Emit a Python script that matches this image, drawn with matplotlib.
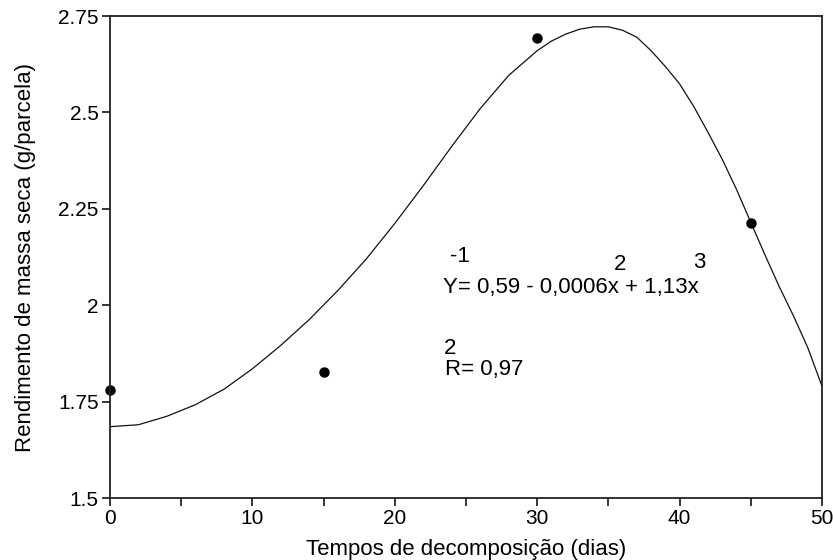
import matplotlib.pyplot as plt

plt.rcParams['font.family'] = ['Liberation Sans', 'DejaVu Sans']

# observed points
dias = [0, 15, 30, 45]
massa = [1.780, 1.827, 2.693, 2.213]

# fitted curve
curva_x = [0, 2, 4, 6, 8, 10, 12, 14, 16, 18, 20, 22, 24, 26, 28, 30, 31, 32, 33,
           34, 35, 36, 37, 38, 39, 40, 41, 42, 43, 44, 45, 46, 47, 48, 49, 50]
curva_y = [1.685, 1.690, 1.712, 1.742, 1.782, 1.835, 1.896, 1.963, 2.038, 2.120,
           2.212, 2.310, 2.412, 2.510, 2.596, 2.660, 2.685, 2.703, 2.716, 2.722,
           2.722, 2.713, 2.695, 2.660, 2.619, 2.574, 2.515, 2.448, 2.378, 2.300,
           2.215, 2.130, 2.048, 1.972, 1.890, 1.790]

x_ticks = [0, 10, 20, 30, 40, 50]
x_minor = [5, 15, 25, 35, 45]
y_ticks = [1.5, 1.75, 2, 2.25, 2.5, 2.75]
y_labels = ["1.5", "1.75", "2", "2.25", "2.5", "2.75"]

fig = plt.figure(figsize=(8.33, 5.6), dpi=100)
ax = fig.add_axes([0.132, 0.1107, 0.8548, 0.8607])

ax.plot(curva_x, curva_y, color="#111111", lw=0.9)
ax.plot(dias, massa, "o", color="black", ms=6.5, clip_on=False)

ax.set_xlim(0, 50)
ax.set_ylim(1.5, 2.75)
ax.set_xticks(x_ticks)
ax.set_xticks(x_minor, minor=True)
ax.set_yticks(y_ticks)
ax.set_yticklabels(y_labels)
ax.tick_params(axis="both", which="both", direction="out", length=6, width=1.1,
               labelsize=15, pad=2, color="black")
for s in ax.spines.values():
    s.set_linewidth(1.3)
    s.set_color("#222222")

ax.set_xlabel("Tempos de decomposição (dias)", fontsize=16, labelpad=8)
ax.set_ylabel("Rendimento de massa seca (g/parcela)", fontsize=16, labelpad=16)

# regression equation text
ax.text(23.4, 2.047, "Y= 0,59 - 0,0006x + 1,13x", fontsize=16, ha="left", va="center")
ax.text(23.9, 2.126, "-1", fontsize=16, ha="left", va="center")
ax.text(35.8, 2.106, "2", fontsize=16, ha="center", va="center")
ax.text(41.4, 2.111, "3", fontsize=16, ha="center", va="center")
ax.text(23.5, 1.834, "R= 0,97", fontsize=16, ha="left", va="center")
ax.text(23.9, 1.889, "2", fontsize=16, ha="center", va="center")

plt.savefig("out.png", dpi=100)
